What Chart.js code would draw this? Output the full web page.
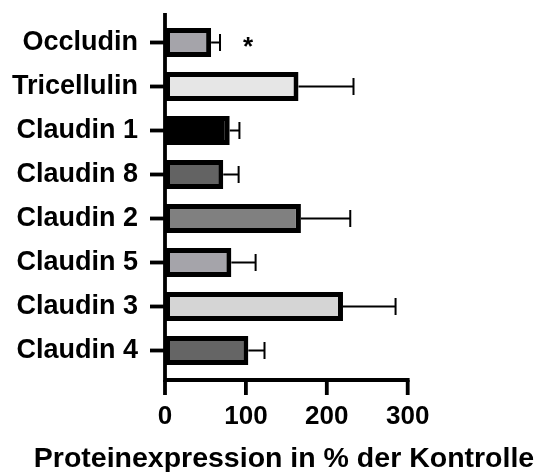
<!DOCTYPE html>
<html>
<head>
<meta charset="utf-8">
<script src="https://cdn.jsdelivr.net/npm/chart.js@4"></script>
<style>
  html, body { margin: 0; padding: 0; background: #fff; }
  #wrap { width: 546px; height: 472px; }
</style>
</head>
<body>
<div id="wrap"><canvas id="chart"></canvas></div>
<script>
var categories = ['Occludin', 'Tricellulin', 'Claudin 1', 'Claudin 8', 'Claudin 2', 'Claudin 5', 'Claudin 3', 'Claudin 4'];
var means = [57, 165, 80, 72, 168, 82, 220, 103];
var errors = [11, 68, 12, 19, 61, 30, 65, 20];
var marks = ['*', '', '', '', '', '', '', ''];
var fills = ['#a5a4aa', '#e6e6e6', '#000000', '#636363', '#808080', '#a5a4aa', '#d5d5d5', '#656565'];
var xTicks = [0, 100, 200, 300];
var xTitle = 'Proteinexpression in % der Kontrolle';

var FONT = '"Liberation Sans", Arial, sans-serif';

// axis lines, tick marks, error bars, asterisk and axis title
var extras = {
    id: 'extras',
    afterDatasetsDraw: function(chart) {
        var ctx = chart.ctx;
        var xs = chart.scales.x, ys = chart.scales.y;
        var area = chart.chartArea;
        var x0 = xs.getPixelForValue(0);
        var axisY = area.bottom + 7.5;
        ctx.save();
        ctx.strokeStyle = '#000';
        ctx.fillStyle = '#000';
        ctx.lineCap = 'butt';

        // error bars (upper side only)
        ctx.lineWidth = 2;
        for (var i = 0; i < categories.length; i++) {
            var yc = ys.getPixelForValue(i);
            var xa = xs.getPixelForValue(means[i]);
            var xb = xs.getPixelForValue(means[i] + errors[i]);
            ctx.beginPath();
            ctx.moveTo(xa, yc);
            ctx.lineTo(xb, yc);
            ctx.moveTo(xb, yc - 8.5);
            ctx.lineTo(xb, yc + 8.5);
            ctx.stroke();
            if (marks[i]) {
                ctx.font = 'bold 26px ' + FONT;
                ctx.textAlign = 'center';
                ctx.textBaseline = 'alphabetic';
                ctx.fillText(marks[i], xb + 28, yc + 12);
            }
        }

        // y axis and its ticks
        ctx.lineWidth = 3.8;
        ctx.beginPath();
        ctx.moveTo(x0, area.top - 7.5);
        ctx.lineTo(x0, axisY + 1.9);
        ctx.stroke();
        for (var j = 0; j < categories.length; j++) {
            var y = ys.getPixelForValue(j);
            ctx.beginPath();
            ctx.moveTo(x0 - 15, y);
            ctx.lineTo(x0, y);
            ctx.stroke();
        }

        // x axis and its ticks
        ctx.beginPath();
        ctx.moveTo(x0, axisY);
        ctx.lineTo(xs.getPixelForValue(xTicks[xTicks.length - 1]) + 1.9, axisY);
        ctx.stroke();
        xTicks.forEach(function(v) {
            var x = xs.getPixelForValue(v);
            ctx.beginPath();
            ctx.moveTo(x, axisY);
            ctx.lineTo(x, axisY + 15);
            ctx.stroke();
        });

        // x axis title (wider than the plot, so drawn here)
        ctx.font = 'bold 28.5px ' + FONT;
        ctx.textAlign = 'center';
        ctx.textBaseline = 'alphabetic';
        ctx.fillText(xTitle, 284, axisY + 87);
        ctx.restore();
    }
};

var chart = new Chart(document.getElementById('chart'), {
    type: 'bar',
    data: {
        labels: categories,
        datasets: [{
            data: means,
            backgroundColor: fills,
            borderColor: '#000',
            borderWidth: 5,
            borderSkipped: false,
            barPercentage: 0.82,
            categoryPercentage: 0.8
        }]
    },
    options: {
        indexAxis: 'y',
        responsive: true,
        maintainAspectRatio: false,
        animation: false,
        layout: { padding: { top: 20.5, right: 138.3, left: 0, bottom: 0 } },
        plugins: {
            legend: { display: false },
            tooltip: { enabled: false }
        },
        scales: {
            x: {
                min: 0,
                max: 300,
                afterBuildTicks: function(scale) {
                    scale.ticks = xTicks.map(function(v) { return { value: v }; });
                },
                afterFit: function(scale) {
                    scale.height = 99.5;
                    scale.paddingLeft = 0;
                    scale.paddingRight = 0;
                },
                grid: { display: false, drawTicks: false },
                border: { display: false },
                ticks: {
                    padding: 29,
                    color: '#000',
                    font: { family: FONT, size: 26, weight: 'bold' }
                }
            },
            y: {
                afterFit: function(scale) {
                    scale.width = 165;
                    scale.paddingTop = 0;
                    scale.paddingBottom = 0;
                },
                grid: { display: false, drawTicks: false },
                border: { display: false },
                ticks: {
                    padding: 27,
                    color: '#000',
                    font: { family: FONT, size: 27, weight: 'bold' }
                }
            }
        }
    },
    plugins: [extras]
});
</script>
</body>
</html>
